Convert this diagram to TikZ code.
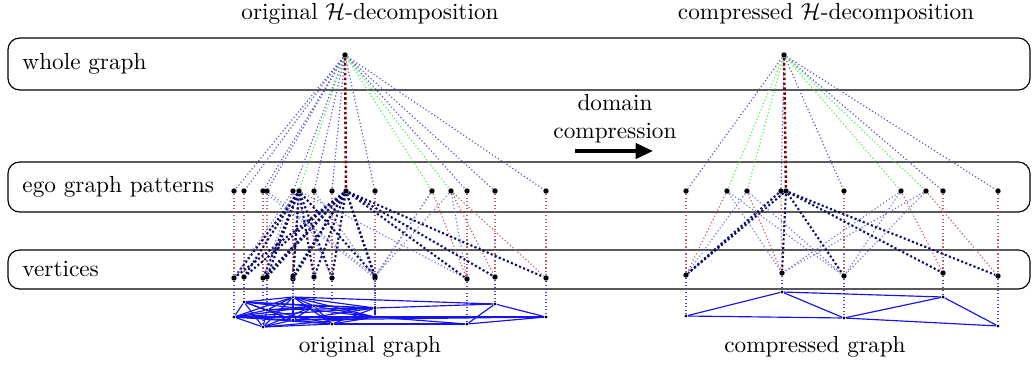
\documentclass[tikz,border=0pt]{standalone}
\usepackage{amsmath,amssymb}
\usepackage{tikz}
\usetikzlibrary{positioning,arrows.meta}
\definecolor{HDblue}{HTML}{2828B8}
\definecolor{HDnavy}{HTML}{0C0C6A}
\definecolor{HDred}{HTML}{A82828}
\definecolor{HDdark}{HTML}{7A0808}
\definecolor{HDgreen}{HTML}{50EE50}
\definecolor{HDedge}{HTML}{1414F0}
\tikzset{
  layerbox/.style={rounded corners=5pt, draw=black, line width=0.5pt},
  layerlbl/.style={anchor=west, inner sep=0pt},
  vdot/.style={circle, fill=black, inner sep=0pt, minimum size=2.3pt},
  gdot/.style={circle, fill=black, inner sep=0pt, minimum size=1.4pt},
  upedge/.style={densely dotted, HDblue!80, line width=0.5pt},
  upgreen/.style={densely dotted, HDgreen, line width=0.5pt},
  upcore/.style={densely dotted, HDdark, line width=1.1pt},
  egored/.style={densely dotted, HDred!75, line width=0.5pt},
  egoblue/.style={densely dotted, HDblue!65, line width=0.5pt},
  egocore/.style={densely dotted, HDnavy, line width=0.9pt},
  vlink/.style={densely dotted, HDblue!85, line width=0.5pt},
  gedge/.style={HDedge, line width=0.5pt},
  bigarr/.style={-{Triangle[length=7.5pt,width=6.5pt]}, line width=1.7pt}
}
\begin{document}
\begin{tikzpicture}[x=0.43pt, y=-0.43pt]
  \useasboundingbox (0,0) rectangle (1034,365);
  % layers
  \draw[layerbox] (8,38) rectangle (1030,90);
  \draw[layerbox] (8,162) rectangle (1030,212);
  \draw[layerbox] (8,250) rectangle (1030,289);
  \node[layerlbl] (lwhole) at (22,64) {whole graph};
  \node[layerlbl] (lego) at (22,187) {ego graph patterns};
  \node[layerlbl] (lvert) at (22,269) {vertices};
  % titles
  \node (torig) at (370,14) {original $\mathcal{H}$-decomposition};
  \node (tcomp) at (826,14) {compressed $\mathcal{H}$-decomposition};
  \node (borig) at (370,347) {original graph};
  \node (bcomp) at (815,347) {compressed graph};
  \node[align=center] (dclbl) at (615,119) {domain\\compression};
  \coordinate (arrS) at (575,151);
  \coordinate (arrE) at (653,151);
  \draw[bigarr] (arrS) -- (arrE);

  % original decomposition
  \node[vdot] (r) at (345,55) {};
  \foreach \i/\x in {1/234,2/244,3/263,4/267,5/293,6/299,7/314,8/332,9/346,10/375,11/432,12/451,13/467,14/495,15/546}
    \node[vdot] (e\i) at (\x,191) {};
  \foreach \i/\x/\y in {1/234/278,2/244/277,3/263/278,4/267/277,5/293/276,6/293/279,7/314/277,8/332/278,9/375/276,10/375/278,11/467/279,12/495/277,13/546/278}
    \node[vdot] (v\i) at (\x,\y) {};
  \foreach \i/\x/\y in {1/234/317,2/244/302,3/263/327,4/267/310,5/293/297,6/293/320,7/314/306,8/332/324,9/375/308,10/375/317,11/467/324,12/495/304,13/546/317}
    \node[gdot] (g\i) at (\x,\y) {};

  % whole graph -> ego graphs
  \foreach \j in {1,2,3,4,5,7,8,10,13,14,15} \draw[upedge] (r) -- (e\j);
  \foreach \j in {6,11,12} \draw[upgreen] (r) -- (e\j);
  \draw[upcore] (r) -- (e9);

  % ego graphs -> vertices
  \foreach \a/\b in {1/1,2/2,3/3,4/4,5/5,7/7,8/8,10/9,13/11,14/12,15/13,11/11,12/12,12/13}
    \draw[egored] (e\a) -- (v\b);
  \foreach \b in {1,2,3,4,5,6,7,8,9} \draw[egocore] (e6) -- (v\b);
  \foreach \b in {1,2,3,4,5,6,7,8,9,10,11,12,13} \draw[egocore] (e9) -- (v\b);
  \foreach \a/\b in {5/1,5/3,5/8,4/9,3/10,7/10,11/9,11/10,12/9,12/11,6/11}
    \draw[egoblue] (e\a) -- (v\b);

  % vertices -> original graph
  \foreach \i in {1,...,13} \draw[vlink] (v\i) -- (g\i);
  \foreach \a/\b in {1/2,1/3,1/4,1/5,1/6,1/7,1/8,1/9,1/10,2/3,2/4,2/5,2/6,2/7,2/9,2/10,
      3/4,3/5,3/6,3/7,3/8,3/10,4/5,4/6,4/7,4/8,4/9,5/6,5/7,5/8,5/9,5/10,6/7,6/8,6/9,6/10,
      7/8,7/9,7/10,8/9,8/10,9/10,9/12,10/13,5/12,6/13,8/11,11/12,12/13,11/13,10/11,1/13}
    \draw[gedge] (g\a) -- (g\b);

  % compressed decomposition
  \node[vdot] (cr) at (784,55) {};
  \foreach \i/\x in {1/686,2/727,3/747,4/781,5/786,6/844,7/901,8/926,9/943,10/998}
    \node[vdot] (ce\i) at (\x,191) {};
  \foreach \i/\x/\y in {1/686/275,2/782/273,3/844/276,4/943/273,5/998/276}
    \node[vdot] (cv\i) at (\x,\y) {};
  \foreach \i/\x/\y in {1/686/316,2/782/292,3/844/318,4/943/297,5/998/326}
    \node[gdot] (cg\i) at (\x,\y) {};

  \foreach \j in {1,4,6,9,10} \draw[upedge] (cr) -- (ce\j);
  \foreach \j in {2,3,7,8} \draw[upgreen] (cr) -- (ce\j);
  \draw[upcore] (cr) -- (ce5);

  \foreach \a/\b in {1/1,2/1,3/2,4/2,6/3,7/4,8/5,9/4,10/5}
    \draw[egored] (ce\a) -- (cv\b);
  \foreach \b in {1,2,3,4,5} \draw[egocore] (ce5) -- (cv\b);
  \draw[egocore] (ce4) -- (cv1);
  \foreach \a/\b in {2/2,2/3,3/1,3/3,7/3,8/3,8/2,7/2}
    \draw[egoblue] (ce\a) -- (cv\b);

  \foreach \i in {1,...,5} \draw[vlink] (cv\i) -- (cg\i);
  \foreach \a/\b in {1/2,1/3,2/3,2/4,3/4,4/5,3/5}
    \draw[gedge] (cg\a) -- (cg\b);
\end{tikzpicture}
\end{document}
